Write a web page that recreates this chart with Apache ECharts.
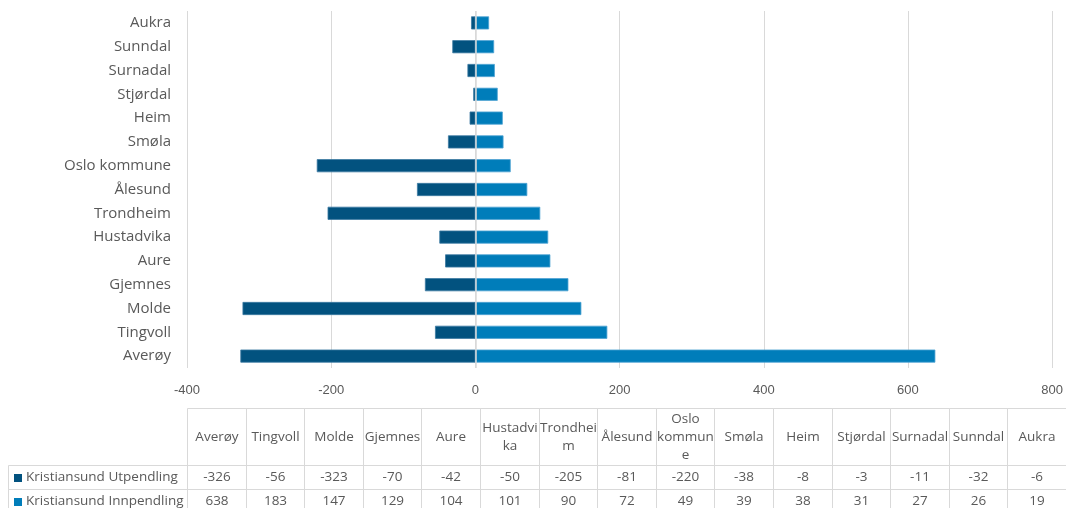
<!DOCTYPE html>
<html>
<head>
<meta charset="utf-8">
<script src="https://cdn.jsdelivr.net/npm/echarts/dist/echarts.min.js"></script>
<style>
  html, body { margin: 0; padding: 0; background: #ffffff; }
  #chart { width: 1066px; height: 508px; }
</style>
</head>
<body>
<div id="chart"></div>
<script>
// Pendling til og fra Kristiansund, etter kommune
const categories = ['Averøy', 'Tingvoll', 'Molde', 'Gjemnes', 'Aure', 'Hustadvika', 'Trondheim', 'Ålesund',
  'Oslo kommune', 'Smøla', 'Heim', 'Stjørdal', 'Surnadal', 'Sunndal', 'Aukra'];
// column headings of the data table, wrapped to the narrow columns
const tableHeaders = ['Averøy', 'Tingvoll', 'Molde', 'Gjemnes', 'Aure', 'Hustadvi\nka', 'Trondhei\nm', 'Ålesund',
  'Oslo\nkommun\ne', 'Smøla', 'Heim', 'Stjørdal', 'Surnadal', 'Sunndal', 'Aukra'];
const seriesNames = ['Kristiansund Utpendling', 'Kristiansund Innpendling'];
const utpendling = [-326, -56, -323, -70, -42, -50, -205, -81, -220, -38, -8, -3, -11, -32, -6];
const innpendling = [638, 183, 147, 129, 104, 101, 90, 72, 49, 39, 38, 31, 27, 26, 19];
const valueMin = -400;
const valueMax = 800;
const valueStep = 200;

const seriesValues = [utpendling, innpendling];
const colors = ['#02527F', '#007DBA'];
const borderColors = ['#3c7aa2', '#4fa3d3'];
const textColor = '#595959';
const lineColor = '#d9d9d9';
const uiFont = '"Open Sans", "Noto Sans", sans-serif';

const HEADER_H = 57;
const ROW_H = 24;
const LABEL_COL_LEFT = 8.5;

const fmt = v => String(v);

function line(x1, y1, x2, y2) {
  return { type: 'line', shape: { x1, y1, x2, y2 }, style: { stroke: lineColor, lineWidth: 1 } };
}

// one table column per category: header, utpendling, innpendling
function renderColumn(params, api) {
  const i = api.value(0);
  const cs = params.coordSys;
  const w = api.size([1, 0])[0];
  const cx = api.coord([i, 0])[0];
  const x0 = Math.round(cx - w / 2) + 0.5;
  const x1 = Math.round(cx + w / 2) + 0.5;
  const y0 = Math.round(cs.y) + 0.5;
  const yH = y0 + HEADER_H, y1 = yH + ROW_H, y2 = y1 + ROW_H;
  const children = [
    line(x0, y0, x1, y0), line(x0, yH, x1, yH), line(x0, y1, x1, y1), line(x0, y2, x1, y2),
    line(x0, y0, x0, y2), line(x1, y0, x1, y2),
    {
      type: 'text',
      style: {
        text: tableHeaders[i], x: (x0 + x1) / 2, y: (y0 + yH) / 2,
        align: 'center', verticalAlign: 'middle', lineHeight: 18,
        fill: textColor, font: '13.5px ' + uiFont
      }
    }
  ];
  seriesValues.forEach((vals, r) => {
    const top = yH + r * ROW_H;
    children.push({
      type: 'text',
      style: {
        text: fmt(vals[i]), x: (x0 + x1) / 2, y: top + ROW_H / 2,
        align: 'center', verticalAlign: 'middle',
        fill: textColor, font: '13.5px ' + uiFont
      }
    });
  });
  return { type: 'group', children };
}

// row labels with legend keys, left of the table columns
function renderRowLabel(params, api) {
  const r = api.value(1);
  const cs = params.coordSys;
  const xL = LABEL_COL_LEFT;
  const xR = Math.round(cs.x) + 0.5;
  const top = Math.round(cs.y) + 0.5 + HEADER_H + r * ROW_H;
  const mid = top + ROW_H / 2;
  return {
    type: 'group',
    children: [
      line(xL, top, xR, top), line(xL, top + ROW_H, xR, top + ROW_H), line(xL, top, xL, top + ROW_H),
      { type: 'rect', shape: { x: 14, y: Math.round(mid - 4), width: 8, height: 8 }, style: { fill: colors[r] } },
      {
        type: 'text',
        style: {
          text: seriesNames[r], x: 26, y: mid, align: 'left', verticalAlign: 'middle',
          fill: textColor, font: '13.5px ' + uiFont
        }
      }
    ]
  };
}

const chart = echarts.init(document.getElementById('chart'), null, { renderer: 'canvas' });

chart.setOption({
  animation: false,
  backgroundColor: '#ffffff',
  grid: [
    { left: 187, right: 10, top: 11, height: 357 },
    { left: 187, top: 408, width: 881.25, height: 100 }
  ],
  xAxis: [
    {
      type: 'value', gridIndex: 0, min: valueMin, max: valueMax, interval: valueStep,
      axisLine: { show: false }, axisTick: { show: false },
      splitLine: { lineStyle: { color: lineColor, width: 1 } },
      axisLabel: {
        margin: 16, color: textColor, fontSize: 13,
        fontFamily: '"Liberation Sans", Arial, sans-serif', formatter: fmt
      }
    },
    {
      type: 'category', gridIndex: 1, data: categories, show: false
    }
  ],
  yAxis: [
    {
      type: 'category', gridIndex: 0, data: categories,
      axisLine: { show: false }, axisTick: { show: false },
      axisLabel: { margin: 16, color: textColor, fontSize: 15, fontFamily: uiFont }
    },
    { type: 'value', gridIndex: 1, min: 0, max: 1, show: false }
  ],
  series: [
    {
      name: seriesNames[0], type: 'bar', xAxisIndex: 0, yAxisIndex: 0,
      data: utpendling, barCategoryGap: '45%', barGap: '-100%',
      itemStyle: { color: colors[0], borderColor: borderColors[0], borderWidth: 0.8 },
      z: 2
    },
    {
      name: seriesNames[1], type: 'bar', xAxisIndex: 0, yAxisIndex: 0,
      data: innpendling, barCategoryGap: '45%', barGap: '-100%',
      itemStyle: { color: colors[1], borderColor: borderColors[1], borderWidth: 0.8 },
      z: 2,
      markLine: {
        silent: true, symbol: 'none', label: { show: false },
        lineStyle: { color: lineColor, type: 'solid', width: 1.5 },
        data: [{ xAxis: 0 }], z: 5
      }
    },
    {
      type: 'custom', xAxisIndex: 1, yAxisIndex: 1,
      data: categories.map((c, i) => [i, 0]),
      encode: { x: 0, y: 1 },
      renderItem: renderColumn, silent: true
    },
    {
      type: 'custom', xAxisIndex: 1, yAxisIndex: 1,
      data: seriesNames.map((n, r) => [0, r]),
      encode: { x: 0 },
      renderItem: renderRowLabel, silent: true
    }
  ]
});
</script>
</body>
</html>
